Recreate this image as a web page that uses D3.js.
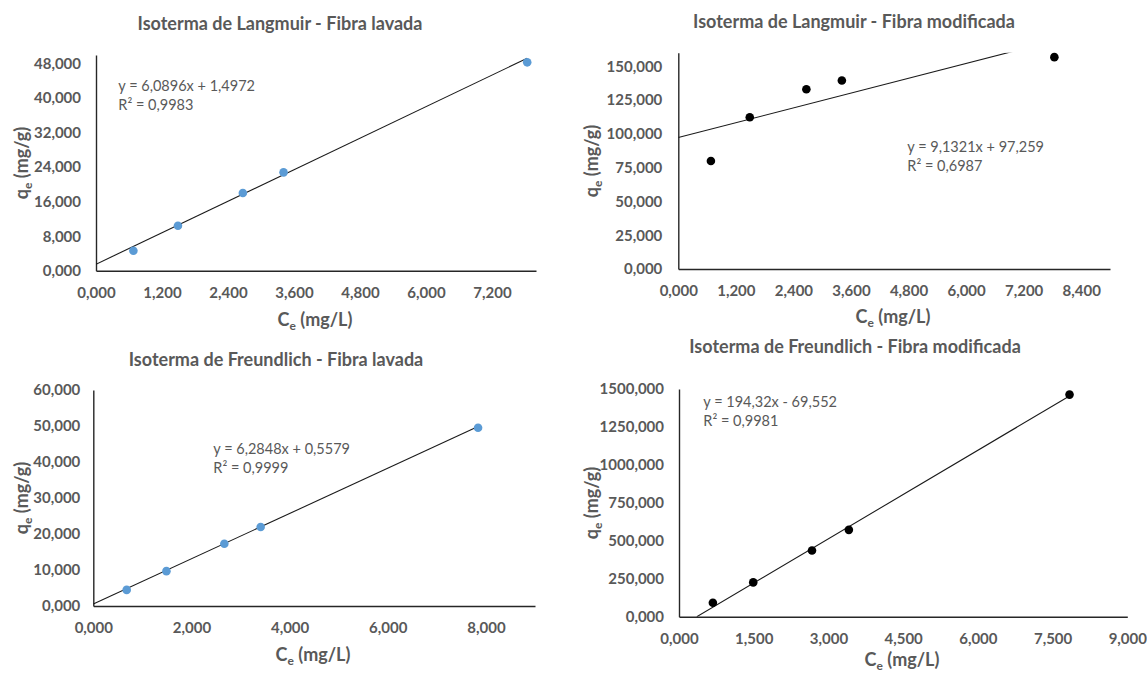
<!DOCTYPE html>
<html><head><meta charset="utf-8">
<script src="https://cdn.jsdelivr.net/npm/d3@7"></script>
<style>
body{margin:0;background:#fff}
text{font-family:Lato,"Open Sans",sans-serif}
</style>
</head><body>
<svg id="c" width="1147" height="673"></svg>
<script>
// ---- data ----
const titles = [
  "Isoterma de Langmuir - Fibra lavada",
  "Isoterma de Langmuir - Fibra modificada",
  "Isoterma de Freundlich - Fibra lavada",
  "Isoterma de Freundlich - Fibra modificada"
];
const ce = [0.68, 1.49, 2.67, 3.41, 7.84];
const qeLangmuirLavada = [4.64, 10.43, 18.0, 22.8, 48.3];
const qeLangmuirModificada = [79.9, 112.3, 133.0, 139.4, 156.7];
const qeFreundlichLavada = [4.47, 9.68, 17.3, 21.96, 49.5];
const qeFreundlichModificada = [92, 226, 436, 572, 1463];
const xTicks = [
  [0, 1.2, 2.4, 3.6, 4.8, 6.0, 7.2],
  [0, 1.2, 2.4, 3.6, 4.8, 6.0, 7.2, 8.4],
  [0, 2, 4, 6, 8],
  [0, 1.5, 3.0, 4.5, 6.0, 7.5, 9.0]
];
const yTicks = [
  [0, 8, 16, 24, 32, 40, 48],
  [0, 25, 50, 75, 100, 125, 150],
  [0, 10, 20, 30, 40, 50, 60],
  [0, 250, 500, 750, 1000, 1250, 1500]
];
const xMax = [8, 9, 9, 9];
const yMax = [50, 160, 60, 1500];
const slopes = [6.0896, 9.1321, 6.2848, 194.32];
const intercepts = [1.4972, 97.259, 0.5579, -69.552];
const eqLabels = ["y = 6,0896x + 1,4972", "y = 9,1321x + 97,259", "y = 6,2848x + 0,5579", "y = 194,32x - 69,552"];
const r2Labels = ["R² = 0,9983", "R² = 0,6987", "R² = 0,9999", "R² = 0,9981"];
const pointColors = ["#5B9BD5", "#000000", "#5B9BD5", "#000000"];
const series = [qeLangmuirLavada, qeLangmuirModificada, qeFreundlichLavada, qeFreundlichModificada];

// ---- layout ----
const boxes = [
  {l:96,   r:536,    t:55,   b:270.7, tx:280, ty:24,  ylx:21.7, yly:163, xlx:315, xly:320, ex:118.3, ey:85.7, yp:15},
  {l:678.3,r:1110,   t:52.7, b:269,   tx:854, ty:22,  ylx:592,  yly:161, xlx:893, xly:317, ex:907.3, ey:146.7, yp:16},
  {l:93.3, r:535,    t:390,  b:606,   tx:276, ty:360, ylx:21.7, yly:498, xlx:313, xly:655, ex:213.3, ey:449, yp:13},
  {l:679,  r:1127.3, t:389,  b:616.7, tx:855, ty:347, ylx:591.7,yly:503, xlx:902, xly:660, ex:703.3, ey:402.3, yp:15}
];
const TXT = "#595959";
const fmt = v => d3.format(".3f")(v).replace(".", ",");

const svg = d3.select("#c");

series.forEach((ys, i) => {
  const B = boxes[i];
  const x = d3.scaleLinear().domain([0, xMax[i]]).range([B.l, B.r]);
  const y = d3.scaleLinear().domain([0, yMax[i]]).range([B.b, B.t]);
  const g = svg.append("g");

  // title
  g.append("text").attr("x", B.tx).attr("y", B.ty).attr("dy", "0.35em")
    .attr("text-anchor", "middle").attr("font-size", 18).attr("font-weight", "bold")
    .attr("fill", TXT).text(titles[i]);

  // axes
  const ax = g.append("g").attr("transform", `translate(0,${B.b})`)
    .call(d3.axisBottom(x).tickValues(xTicks[i]).tickSize(0).tickSizeOuter(0).tickPadding(16.5).tickFormat(fmt));
  const ay = g.append("g").attr("transform", `translate(${B.l},0)`)
    .call(d3.axisLeft(y).tickValues(yTicks[i]).tickSize(0).tickSizeOuter(0).tickPadding(B.yp).tickFormat(fmt));
  [ax, ay].forEach(a => {
    a.select(".domain").attr("stroke", "#262626").attr("stroke-width", 1.4);
    a.selectAll("text").attr("font-size", 15).attr("font-weight", "bold").attr("fill", TXT)
      .attr("font-family", 'Lato,"Open Sans",sans-serif');
  });

  // axis titles
  const xt = g.append("text").attr("x", B.xlx).attr("y", B.xly).attr("dy", "0.35em")
    .attr("text-anchor", "middle").attr("font-size", 18).attr("font-weight", "bold").attr("fill", TXT);
  xt.append("tspan").text("C");
  xt.append("tspan").attr("font-size", 12).attr("dy", 4).text("e");
  xt.append("tspan").attr("dy", -4).text(" (mg/L)");

  const yt = g.append("text").attr("transform", `translate(${B.ylx},${B.yly}) rotate(-90)`)
    .attr("dy", "0.35em").attr("text-anchor", "middle").attr("font-size", 18)
    .attr("font-weight", "bold").attr("fill", TXT);
  yt.append("tspan").text("q");
  yt.append("tspan").attr("font-size", 12).attr("dy", 4).text("e");
  yt.append("tspan").attr("dy", -4).text(" (mg/g)");

  // trendline (clipped to plot area)
  const cid = "clip" + i;
  svg.append("clipPath").attr("id", cid).append("rect")
    .attr("x", B.l).attr("y", B.t).attr("width", B.r - B.l).attr("height", B.b - B.t);
  const x0 = Math.max(0, -intercepts[i] / slopes[i]);
  const x1 = d3.max(ce);
  g.append("line").attr("clip-path", `url(#${cid})`)
    .attr("x1", x(x0)).attr("y1", y(slopes[i] * x0 + intercepts[i]))
    .attr("x2", x(x1)).attr("y2", y(slopes[i] * x1 + intercepts[i]))
    .attr("stroke", "#1a1a1a").attr("stroke-width", 1.1);

  // points
  g.selectAll("circle").data(ys).join("circle")
    .attr("cx", (d, j) => x(ce[j])).attr("cy", d => y(d))
    .attr("r", 4.3).attr("fill", pointColors[i]);

  // equation
  g.append("text").attr("x", B.ex).attr("y", B.ey).attr("dy", "0.35em")
    .attr("font-size", 14.5).attr("fill", TXT).text(eqLabels[i]);
  g.append("text").attr("x", B.ex).attr("y", B.ey + 19).attr("dy", "0.35em")
    .attr("font-size", 14.5).attr("fill", TXT).text(r2Labels[i]);
});
</script>
</body></html>
